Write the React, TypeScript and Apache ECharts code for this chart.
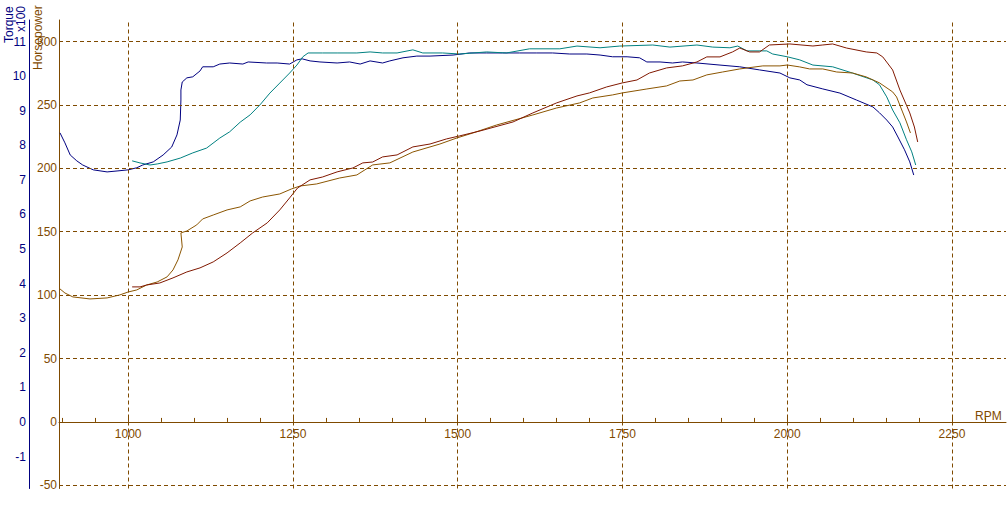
import React, { useEffect, useRef } from "react";
import * as echarts from "echarts";

// ---- Data ----
// Run 1 torque (x100), navy
const torque1Rpm = [896.5, 904, 912, 922, 931, 947, 968, 984.5, 1000, 1013, 1022, 1038, 1053, 1066, 1074, 1079, 1080, 1080, 1082, 1089, 1098, 1109, 1113, 1129, 1139, 1154, 1174, 1182, 1210, 1226, 1245, 1256, 1264, 1276, 1291, 1317, 1336, 1352, 1367, 1386, 1397, 1417, 1438, 1458, 1493, 1518, 1544, 1568, 1594, 1620, 1644, 1670, 1696, 1716, 1735, 1757, 1776, 1787, 1807, 1826, 1841, 1863, 1898, 1928, 1958, 1989, 2004, 2019, 2030, 2054, 2080, 2105, 2130, 2140, 2151, 2160, 2168, 2178, 2186, 2192];
const torque1Val = [8.36, 8.07, 7.72, 7.55, 7.43, 7.29, 7.23, 7.26, 7.29, 7.35, 7.43, 7.52, 7.72, 7.95, 8.3, 8.73, 9.31, 9.6, 9.83, 9.95, 9.98, 10.15, 10.27, 10.27, 10.35, 10.38, 10.35, 10.41, 10.38, 10.38, 10.35, 10.47, 10.5, 10.44, 10.41, 10.38, 10.41, 10.35, 10.44, 10.38, 10.44, 10.53, 10.58, 10.58, 10.61, 10.67, 10.67, 10.67, 10.67, 10.67, 10.67, 10.64, 10.64, 10.61, 10.56, 10.56, 10.53, 10.41, 10.41, 10.38, 10.41, 10.38, 10.32, 10.27, 10.18, 10.09, 9.95, 9.89, 9.75, 9.63, 9.51, 9.31, 9.11, 8.94, 8.73, 8.53, 8.24, 7.87, 7.52, 7.14];

// Run 2 torque (x100), teal
const torque2Rpm = [1006, 1018, 1033, 1044, 1059, 1079, 1098, 1119, 1139, 1154, 1170, 1185, 1200, 1215, 1230, 1245, 1256, 1265, 1273, 1295, 1317, 1347, 1367, 1386, 1408, 1432, 1447, 1477, 1503, 1544, 1574, 1609, 1655, 1681, 1716, 1746, 1796, 1822, 1863, 1887, 1913, 1925, 1939, 1969, 1978, 2000, 2019, 2039, 2069, 2099, 2130, 2140, 2151, 2160, 2171, 2181, 2189, 2195];
const torque2Val = [7.55, 7.49, 7.43, 7.46, 7.52, 7.63, 7.78, 7.92, 8.21, 8.39, 8.67, 8.88, 9.17, 9.51, 9.8, 10.09, 10.32, 10.56, 10.67, 10.67, 10.67, 10.67, 10.7, 10.67, 10.67, 10.76, 10.67, 10.67, 10.64, 10.7, 10.67, 10.79, 10.79, 10.87, 10.82, 10.87, 10.9, 10.84, 10.9, 10.84, 10.82, 10.87, 10.73, 10.73, 10.64, 10.56, 10.47, 10.32, 10.27, 10.09, 9.89, 9.75, 9.4, 9.02, 8.65, 8.16, 7.81, 7.43];

// Run 1 horsepower, brown
const hp1Rpm = [896.5, 904, 916, 942, 968, 987.5, 1000, 1013, 1028, 1044, 1059, 1068, 1075.5, 1082, 1080, 1089, 1104, 1113, 1129, 1150, 1170, 1185, 1204, 1230, 1248, 1261, 1286, 1321, 1347, 1371, 1397, 1432, 1473, 1499, 1523, 1559, 1614, 1650, 1685, 1705, 1735, 1750, 1787, 1817, 1837, 1857, 1878, 1902, 1928, 1963, 1989, 2000, 2019, 2034, 2054, 2075, 2099, 2120, 2140, 2160, 2166, 2175, 2181, 2187];
const hp1Val = [104.9, 101.7, 98.6, 97.0, 97.8, 100.2, 102.5, 104.1, 108.0, 110.4, 114.4, 119.9, 127.8, 138.0, 149.1, 150.6, 155.4, 160.1, 163.2, 167.2, 169.6, 174.3, 177.4, 179.8, 183.8, 186.1, 187.7, 192.4, 194.8, 202.7, 204.3, 212.9, 219.2, 224.0, 227.9, 234.2, 242.1, 247.6, 251.6, 255.5, 257.9, 259.5, 262.6, 265.0, 268.9, 269.7, 273.7, 276.0, 278.4, 280.8, 280.8, 281.5, 280.0, 278.4, 278.4, 276.0, 275.2, 272.1, 267.4, 260.3, 256.3, 244.5, 236.6, 227.9];

// Run 2 horsepower, maroon
const hp2Rpm = [1006, 1018, 1028, 1048, 1068, 1089, 1109, 1129, 1150, 1170, 1189, 1211, 1230, 1245, 1257, 1276, 1295, 1317, 1341, 1356, 1371, 1386, 1408, 1432, 1458, 1483, 1503, 1534, 1584, 1614, 1650, 1681, 1700, 1726, 1750, 1772, 1791, 1817, 1841, 1863, 1878, 1898, 1917, 1928, 1943, 1958, 1973, 2004, 2039, 2054, 2069, 2090, 2120, 2136, 2145, 2152, 2160, 2171, 2186, 2193, 2198];
const hp2Val = [106.5, 106.5, 108.0, 109.6, 113.6, 118.3, 121.5, 126.2, 133.3, 141.2, 149.1, 157.0, 167.2, 176.7, 184.5, 190.9, 193.2, 197.2, 200.3, 204.3, 205.0, 209.0, 210.6, 216.9, 219.2, 223.2, 225.6, 229.5, 236.6, 243.7, 251.6, 257.1, 259.5, 264.2, 267.4, 269.7, 275.2, 279.2, 280.8, 283.9, 287.9, 287.9, 291.8, 294.9, 291.8, 291.8, 297.3, 298.1, 296.5, 297.3, 298.1, 294.9, 291.8, 291.0, 287.9, 283.1, 277.6, 261.8, 243.7, 232.6, 220.8];

// Axis ticks / labels
const rpmLabels = [1000, 1250, 1500, 1750, 2000, 2250];
const rpmMinorTicks = [900, 950, 1000, 1050, 1100, 1150, 1200, 1250, 1300, 1350, 1400, 1450, 1500, 1550, 1600, 1650, 1700, 1750, 1800, 1850, 1900, 1950, 2000, 2050, 2100, 2150, 2200, 2250, 2300];
const hpLabels = [-50, 0, 50, 100, 150, 200, 250, 300];
const hpGridLines = [-50, 50, 100, 150, 200, 250, 300];
const torqueLabels = [-1, 0, 1, 2, 3, 4, 5, 6, 7, 8, 9, 10, 11];

// Axis ranges
const rpmMin = 895;
const rpmMax = 2332;
const hpMin = -52.5;
const hpMax = 317;
const torquePerHp = 11 / 300;

const BROWN = "#7f4a00";
const NAVY = "#000080";
const TEAL = "#008080";
const HP1 = "#8b5500";
const HP2 = "#801800";
const FONT = "'Liberation Sans', Arial, sans-serif";

const GRID_TOP = 20;
const GRID_BOTTOM = 16.5;
const CHART_H = 505;

const zip = (xs: number[], ys: number[]) => xs.map((x, i) => [x, ys[i]]);

export default function App() {
  const ref = useRef<HTMLDivElement>(null);

  useEffect(() => {
    if (!ref.current) return;
    const chart = echarts.init(ref.current, null, { renderer: "svg" });
    const gridH = CHART_H - GRID_TOP - GRID_BOTTOM;
    // distance from grid bottom to the hp = 0 line (x-axis sits there)
    const zeroOffset = (-hpMin / (hpMax - hpMin)) * gridH;
    const option: any = {
      animation: false,
      backgroundColor: "#ffffff",
      textStyle: { fontFamily: FONT },
      grid: {
        left: 59,
        right: 1,
        top: GRID_TOP,
        bottom: GRID_BOTTOM,
        containLabel: false,
        outerBoundsMode: "none",
      },
      xAxis: {
        type: "value",
        position: "bottom",
        min: rpmMin,
        max: rpmMax,
        offset: -zeroOffset,
        axisLine: { show: true, onZero: false, lineStyle: { color: BROWN, width: 1 } },
        axisTick: {
          show: true,
          inside: true,
          length: 4,
          customValues: rpmMinorTicks,
          lineStyle: { color: BROWN, width: 1 },
        },
        axisLabel: {
          customValues: rpmLabels,
          formatter: (v: number) => String(v),
          color: BROWN,
          fontSize: 12,
          fontFamily: FONT,
          margin: 6,
        },
        splitLine: { show: false },
      },
      yAxis: [
        {
          type: "value",
          position: "left",
          min: hpMin,
          max: hpMax,
          offset: 0,
          axisLine: { show: true, onZero: false, lineStyle: { color: BROWN, width: 1 } },
          axisTick: { show: false, customValues: hpLabels },
          axisLabel: {
            customValues: hpLabels,
            formatter: (v: number) => String(v),
            color: BROWN,
            fontSize: 12,
            fontFamily: FONT,
            margin: 2,
          },
          splitLine: { show: false },
        },
        {
          type: "value",
          position: "left",
          min: hpMin * torquePerHp,
          max: hpMax * torquePerHp,
          offset: 30,
          axisLine: { show: true, onZero: false, lineStyle: { color: NAVY, width: 1 } },
          axisTick: { show: false, customValues: torqueLabels },
          axisLabel: {
            customValues: torqueLabels,
            formatter: (v: number) => String(v),
            color: NAVY,
            fontSize: 12,
            fontFamily: FONT,
            margin: 3,
          },
          splitLine: { show: false },
        },
      ],
      graphic: [
        {
          type: "text",
          x: 9,
          y: 43,
          rotation: Math.PI / 2,
          style: { text: "Torque", fill: NAVY, font: `12px ${FONT}`, textAlign: "left", textVerticalAlign: "middle" },
        },
        {
          type: "text",
          x: 21,
          y: 32,
          rotation: Math.PI / 2,
          style: { text: "x100", fill: NAVY, font: `12px ${FONT}`, textAlign: "left", textVerticalAlign: "middle" },
        },
        {
          type: "text",
          x: 38,
          y: 70,
          rotation: Math.PI / 2,
          style: { text: "Horsepower", fill: BROWN, font: `12px ${FONT}`, textAlign: "left", textVerticalAlign: "middle" },
        },
        {
          type: "text",
          x: 975,
          y: 416,
          style: { text: "RPM", fill: BROWN, font: `12px ${FONT}`, textAlign: "left", textVerticalAlign: "middle" },
        },
      ],
      series: [
        {
          name: "grid",
          type: "line",
          data: [],
          z: 1,
          silent: true,
          markLine: {
            silent: true,
            symbol: ["none", "none"],
            label: { show: false },
            animation: false,
            lineStyle: { color: BROWN, type: [4, 3], width: 1 },
            emphasis: { disabled: true },
            data: [
              ...rpmLabels.map((v) => ({ xAxis: v })),
              ...hpGridLines.map((v) => ({ yAxis: v })),
            ],
          },
        },
        {
          name: "Torque 1",
          type: "line",
          yAxisIndex: 1,
          data: zip(torque1Rpm, torque1Val),
          showSymbol: false,
          symbol: "none",
          lineStyle: { color: NAVY, width: 1 },
          z: 3,
        },
        {
          name: "Torque 2",
          type: "line",
          yAxisIndex: 1,
          data: zip(torque2Rpm, torque2Val),
          showSymbol: false,
          symbol: "none",
          lineStyle: { color: TEAL, width: 1 },
          z: 3,
        },
        {
          name: "HP 1",
          type: "line",
          yAxisIndex: 0,
          data: zip(hp1Rpm, hp1Val),
          showSymbol: false,
          symbol: "none",
          lineStyle: { color: HP1, width: 1 },
          z: 3,
        },
        {
          name: "HP 2",
          type: "line",
          yAxisIndex: 0,
          data: zip(hp2Rpm, hp2Val),
          showSymbol: false,
          symbol: "none",
          lineStyle: { color: HP2, width: 1 },
          z: 3,
        },
      ],
    };
    chart.setOption(option);
    return () => chart.dispose();
  }, []);

  return (
    <div
      ref={ref}
      style={{ position: "absolute", left: 0, top: 0, width: 1007, height: 505, background: "#fff" }}
    />
  );
}
